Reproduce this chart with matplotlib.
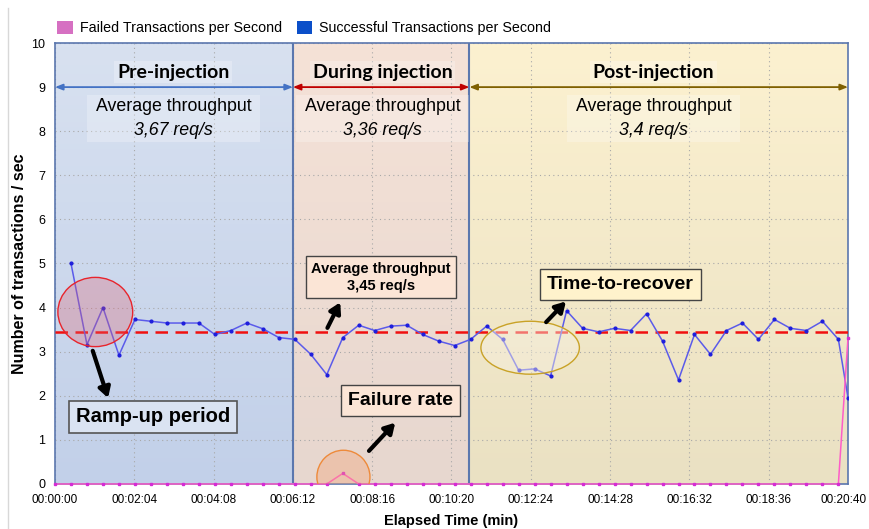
import numpy as np
import matplotlib
matplotlib.use('Agg')
import matplotlib.pyplot as plt
import matplotlib.transforms as mtransforms
from matplotlib.patches import Ellipse, Rectangle, Patch
from matplotlib.colors import LinearSegmentedColormap
from matplotlib.lines import Line2D

plt.rcParams['font.family'] = ['Liberation Sans', 'DejaVu Sans']

# thời gian (giây) của từng điểm đo
time_s = [0, 25, 50, 75, 100, 125, 150, 175, 200, 225, 250, 275, 300, 325, 350,
          375, 400, 425, 450, 475, 500, 525, 550, 575, 600, 625, 650, 675, 700,
          725, 750, 775, 800, 825, 850, 875, 900, 925, 950, 975, 1000, 1025,
          1050, 1075, 1100, 1125, 1150, 1175, 1200, 1225, 1240]

# giao dịch thành công / giây (bắt đầu từ điểm thứ 2)
success_tps = [None, 5.0, 3.16, 4.0, 2.92, 3.73, 3.69, 3.65, 3.65, 3.65, 3.39,
               3.48, 3.65, 3.52, 3.32, 3.28, 2.94, 2.48, 3.32, 3.6, 3.48, 3.58,
               3.6, 3.39, 3.24, 3.14, 3.28, 3.58, 3.28, 2.58, 2.61, 2.45, 3.93,
               3.53, 3.45, 3.53, 3.48, 3.86, 3.24, 2.36, 3.39, 2.94, 3.48, 3.65,
               3.28, 3.73, 3.53, 3.48, 3.69, 3.28, 1.96]

# giao dịch thất bại / giây
failed_tps = [0, 0, 0, 0, 0, 0, 0, 0, 0, 0, 0, 0, 0, 0, 0, 0, 0, 0, 0.24, 0,
              0, 0, 0, 0, 0, 0, 0, 0, 0, 0, 0, 0, 0, 0, 0, 0, 0, 0, 0, 0, 0, 0,
              0, 0, 0, 0, 0, 0, 0, 0, 3.3]

tick_s = [0, 124, 248, 372, 496, 620, 744, 868, 992, 1116, 1240]
tick_labels = ['00:00:00', '00:02:04', '00:04:08', '00:06:12', '00:08:16',
               '00:10:20', '00:12:24', '00:14:28', '00:16:32', '00:18:36',
               '00:20:40']

phase_names = ['Pre-injection', 'During injection', 'Post-injection']
phase_bounds = [0, 372, 648, 1240]
phase_avg = ['3,67 req/s', '3,36 req/s', '3,4 req/s']
overall_avg = 3.45

fig = plt.figure(figsize=(8.69, 5.29), dpi=100)
ax = fig.add_axes([0.0633, 0.0851, 0.9125, 0.8336])
ax.set_xlim(0, 1240)
ax.set_ylim(0, 10)

# nền từng giai đoạn (gradient, sáng ở trên)
bg = [('#D8E1F0', '#C2D0E9'), ('#F5E2D7', '#E7D7CF'), ('#FCF1D0', '#EAE1C3')]
grad = np.linspace(0, 1, 100).reshape(-1, 1)
for i, (top, bot) in enumerate(bg):
    cmap = LinearSegmentedColormap.from_list('g%d' % i, [top, bot])
    ax.imshow(grad, cmap=cmap, aspect='auto',
              extent=[phase_bounds[i], phase_bounds[i + 1], 0, 10],
              zorder=0, origin='upper')
ax.set_xlim(0, 1240)
ax.set_ylim(0, 10)

ax.grid(True, color='#A8A8A8', linestyle=(0, (1, 3)), linewidth=0.8, zorder=1)
for b in phase_bounds[1:3]:
    ax.axvline(b, color='#5B77AE', linewidth=1.5, zorder=2)
for s in ax.spines.values():
    s.set_color('#5B77AE')
    s.set_linewidth(1.2)

ax.set_xticks(tick_s)
ax.set_xticklabels(tick_labels, fontsize=8.5)
ax.set_yticks(range(11))
ax.tick_params(axis='x', length=0, labelsize=8.5, pad=7)
ax.tick_params(axis='y', length=0, labelsize=9, pad=7)
last = ax.get_xticklabels()[-1]
last.set_transform(last.get_transform() +
                   mtransforms.ScaledTranslation(-4 / 100, 0, fig.dpi_scale_trans))

# mũi tên hai đầu ở y = 9
arrow_cols = ['#4472C4', '#C00000', '#7F6000']
for i in range(3):
    ax.annotate('', xy=(phase_bounds[i], 9), xytext=(phase_bounds[i + 1], 9),
                arrowprops=dict(arrowstyle='<|-|>,head_width=0.18,head_length=0.45',
                                color=arrow_cols[i], lw=1.3, shrinkA=0, shrinkB=0),
                zorder=3)

centers = [185, 512, 936]
for i in range(3):
    ax.text(centers[i], 9.34, phase_names[i], ha='center', va='center',
            fontsize=14, fontweight='bold', family=['Lato', 'DejaVu Sans'],
            bbox=dict(facecolor='white', alpha=0.25, edgecolor='none', pad=2),
            zorder=4)
    ax.add_patch(Rectangle((centers[i] - 135, 7.75), 270, 1.07,
                           facecolor='white', alpha=0.25, edgecolor='none', zorder=3))
    ax.text(centers[i], 8.55, 'Average throughput', ha='center', va='center',
            fontsize=12.8, zorder=4)
    ax.text(centers[i], 8.02, phase_avg[i], ha='center', va='center',
            fontsize=12.8, style='italic', zorder=4)

# đường trung bình
ax.axhline(overall_avg, color='#F01010', linestyle=(0, (5, 3)), linewidth=1.8, zorder=5)

# dữ liệu
s_x = [t for t, v in zip(time_s, success_tps) if v is not None]
s_y = [v for v in success_tps if v is not None]
ax.plot(s_x, s_y, color='#5B5BEA', linewidth=1.1, marker='o', markersize=2.0,
        markerfacecolor='#1E1EDC', markeredgecolor='#1E1EDC', zorder=6)
ax.plot(time_s, failed_tps, color='#FF5CC8', linewidth=1.1, marker='s',
        markersize=1.8, markerfacecolor='#D42CD4', markeredgecolor='#D42CD4',
        zorder=6, clip_on=False)

# các vòng chú thích
ax.add_patch(Ellipse((63, 3.9), 117, 1.57, facecolor='#E06070', alpha=0.3,
                     edgecolor='none', zorder=7))
ax.add_patch(Ellipse((63, 3.9), 117, 1.57, facecolor='none',
                     edgecolor='#E8242C', linewidth=1.0, zorder=7))
ax.add_patch(Ellipse((451, 0.16), 83, 1.21, facecolor='#F4A070', alpha=0.35,
                     edgecolor='none', zorder=7))
ax.add_patch(Ellipse((451, 0.16), 83, 1.21, facecolor='none',
                     edgecolor='#EE8A3A', linewidth=1.0, zorder=7))
ax.add_patch(Ellipse((743, 3.09), 154, 1.2, facecolor='#F6F0E0', alpha=0.45,
                     edgecolor='none', zorder=7))
ax.add_patch(Ellipse((743, 3.09), 154, 1.2, facecolor='none',
                     edgecolor='#C9A227', linewidth=1.0, zorder=7))

arr = dict(arrowstyle='-|>,head_width=0.35,head_length=0.6', color='black',
           lw=3, shrinkA=0, shrinkB=0)
ax.annotate('', xy=(83, 1.95), xytext=(59, 3.02), arrowprops=arr, zorder=8)
ax.annotate('', xy=(446, 4.12), xytext=(426, 3.54), arrowprops=arr, zorder=8)
ax.annotate('', xy=(532, 1.39), xytext=(491, 0.75), arrowprops=arr, zorder=8)
ax.annotate('', xy=(799, 4.14), xytext=(768, 3.67), arrowprops=arr, zorder=8)

ax.text(153, 1.52, 'Ramp-up period', ha='center', va='center', fontsize=14.5,
        fontweight='bold', zorder=9,
        bbox=dict(facecolor='#DAE3F2', edgecolor='#555555', linewidth=1.2, pad=5))
ax.text(510, 4.69, 'Average throughput\n3,45 req/s', ha='center', va='center',
        fontsize=10.5, fontweight='bold', linespacing=1.3, zorder=9,
        bbox=dict(facecolor='#FBE5D6', edgecolor='#444444', linewidth=1.0, pad=4))
ax.text(541, 1.89, 'Failure rate', ha='center', va='center', fontsize=14,
        fontweight='bold', zorder=9,
        bbox=dict(facecolor='#FBE5D6', edgecolor='#444444', linewidth=1.0, pad=5))
ax.text(884, 4.52, 'Time-to-recover', ha='center', va='center', fontsize=14,
        fontweight='bold', zorder=9,
        bbox=dict(facecolor='#FFF2CC', edgecolor='#444444', linewidth=1.0, pad=5))

ax.set_xlabel('Elapsed Time (min)', fontsize=10.5, fontweight='bold', labelpad=6)
ax.set_ylabel('Number of transactions / sec', fontsize=11.5, fontweight='bold')
ax.yaxis.set_label_coords(-0.035, 0.5)

handles = [Patch(facecolor='#D670C2', edgecolor='none'),
           Patch(facecolor='#0B4FC9', edgecolor='none')]
fig.legend(handles, ['Failed Transactions per Second',
                     'Successful Transactions per Second'],
           loc='center left', bbox_to_anchor=(0.051, 0.947), ncol=2,
           frameon=False, fontsize=10.3, handlelength=1.1, handleheight=1.1,
           handletextpad=0.5, columnspacing=1.0)

fig.add_artist(Line2D([0.009, 0.009], [0.0, 0.985], color='#D8D8D8', lw=1))

plt.savefig('out.png', dpi=100)
